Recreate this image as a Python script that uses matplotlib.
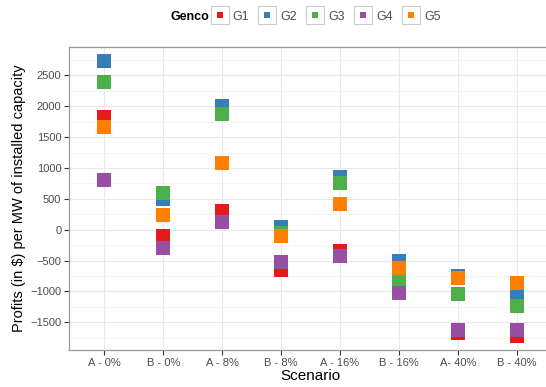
import matplotlib.pyplot as plt
from matplotlib.lines import Line2D
import numpy as np

plt.rcParams['font.family'] = ['Liberation Sans', 'DejaVu Sans']

scenarios = ["A - 0%", "B - 0%", "A - 8%", "B - 8%", "A - 16%", "B - 16%", "A- 40%", "B - 40%"]
gencos = ["G1", "G2", "G3", "G4", "G5"]
colors = ["#E41A1C", "#377EB8", "#4DAF4A", "#984EA3", "#FF7F00"]

g1 = [1820, -110, 310, -650, -340, -1030, -1680, -1730]
g2 = [2740, 490, 2000, 50, 850, -510, -745, -1030]
g3 = [2400, 590, 1880, -60, 760, -800, -1040, -1230]
g4 = [810, -290, 125, -520, -430, -1030, -1620, -1620]
g5 = [1670, 230, 1080, -100, 420, -620, -790, -860]
profits = [g1, g2, g3, g4, g5]

fig = plt.figure(figsize=(5.46, 3.87), dpi=100)
ax = fig.add_axes([69/546, 1 - 350/387, 483/546, 303/387])

x = np.arange(len(scenarios))
for vals, col in zip(profits, colors):
    ax.plot(x, vals, linestyle='none', marker='s', markersize=9.5,
            markeredgewidth=0, color=col, zorder=3)

ax.set_xlim(-0.6, len(scenarios) - 0.4)
ax.set_ylim(-1950, 2960)
ax.set_xticks(x)
ax.set_xticklabels(scenarios)
ax.set_yticks(np.arange(-1500, 2501, 500))
ax.set_yticks(np.arange(-1750, 2751, 500), minor=True)

ax.grid(True, which='major', color='#e8e8e8', linewidth=0.8, zorder=0)
ax.grid(True, which='minor', axis='y', color='#f4f4f4', linewidth=0.6, zorder=0)
ax.set_axisbelow(True)

for s in ax.spines.values():
    s.set_color('#9a9a9a')
    s.set_linewidth(0.9)
ax.spines['right'].set_visible(False)

ax.tick_params(axis='both', which='major', length=3.5, width=0.8, color='#333333',
               labelcolor='#4d4d4d', labelsize=8, pad=2)
ax.tick_params(axis='both', which='minor', length=0)

ax.set_xlabel("Scenario", fontsize=11, labelpad=1)
ax.set_ylabel("Profits (in $) per MW of installed capacity", fontsize=10.5, labelpad=3)

handles = []
for col in colors:
    box = Line2D([], [], linestyle='none', marker='s', markersize=12.5,
                 markerfacecolor='white', markeredgecolor='#cccccc', markeredgewidth=0.8)
    sq = Line2D([], [], linestyle='none', marker='s', markersize=4.5,
                markeredgewidth=0, color=col)
    handles.append((box, sq))

fig.text(0.383, 0.957, "Genco", fontsize=9, fontweight='bold', ha='right', va='center')
fig.legend(handles, gencos, loc='center left', bbox_to_anchor=(0.386, 0.957), ncol=5,
           frameon=False, fontsize=9, handlelength=1.4, handletextpad=0.35,
           columnspacing=0.75, borderaxespad=0, borderpad=0,
           labelcolor='#4d4d4d')

plt.savefig("out.png", dpi=100)
